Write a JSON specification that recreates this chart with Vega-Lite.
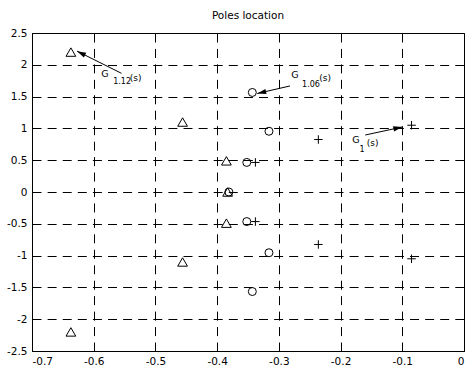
{
  "$schema": "https://vega.github.io/schema/vega-lite/v6.json",
  "width": 432,
  "height": 318,
  "autosize": {"type": "none"},
  "padding": {"left": 32, "top": 33, "right": 1, "bottom": 16},
  "background": "white",
  "title": {"text": "Poles location", "font": "DejaVu Sans", "fontSize": 10.5, "fontWeight": "normal", "color": "black", "offset": 7},
  "config": {
    "locale": {"number": {"decimal": ".", "thousands": ",", "grouping": [3], "currency": ["$", ""], "minus": "-"}},
    "view": {"stroke": "black", "strokeWidth": 1},
    "axis": {
      "domainColor": "black",
      "ticks": false,
      "grid": true,
      "gridColor": "black",
      "gridOpacity": 1,
      "gridWidth": 1,
      "labelFont": "DejaVu Sans",
      "labelFontSize": 10.5,
      "labelColor": "black"
    },
    "axisX": {"gridDash": [9, 6.45], "labelPadding": 5},
    "axisY": {"gridDash": [9, 6.1], "labelPadding": 5}
  },
  "datasets": {
    "poles": [
      {"system": "G1.12", "x": -0.637, "y": 2.2},
      {"system": "G1.12", "x": -0.637, "y": -2.2},
      {"system": "G1.12", "x": -0.456, "y": 1.1},
      {"system": "G1.12", "x": -0.456, "y": -1.1},
      {"system": "G1.12", "x": -0.385, "y": 0.49},
      {"system": "G1.12", "x": -0.385, "y": -0.49},
      {"system": "G1.12", "x": -0.383, "y": 0},
      {"system": "G1.06", "x": -0.343, "y": 1.565},
      {"system": "G1.06", "x": -0.343, "y": -1.565},
      {"system": "G1.06", "x": -0.316, "y": 0.955},
      {"system": "G1.06", "x": -0.316, "y": -0.955},
      {"system": "G1.06", "x": -0.352, "y": 0.465},
      {"system": "G1.06", "x": -0.352, "y": -0.465},
      {"system": "G1.06", "x": -0.381, "y": 0},
      {"system": "G1", "x": -0.085, "y": 1.05},
      {"system": "G1", "x": -0.085, "y": -1.05},
      {"system": "G1", "x": -0.236, "y": 0.825},
      {"system": "G1", "x": -0.236, "y": -0.825},
      {"system": "G1", "x": -0.338, "y": 0.465},
      {"system": "G1", "x": -0.338, "y": -0.465}
    ],
    "arrows": [
      {"system": "G1.12", "x": -0.627, "y": 2.215, "x2": -0.555, "y2": 1.866},
      {"system": "G1.06", "x": -0.335, "y": 1.549, "x2": -0.282, "y2": 1.667},
      {"system": "G1", "x": -0.1, "y": 1.022, "x2": -0.16, "y2": 0.896}
    ],
    "labels": [
      {"system": "G1.12", "part": "G", "x": -0.582, "y": 1.85, "text": "G"},
      {"system": "G1.12", "part": "sub", "x": -0.554, "y": 1.735, "text": "1.12"},
      {"system": "G1.12", "part": "arg", "x": -0.532, "y": 1.8, "text": "(s)"},
      {"system": "G1.06", "part": "G", "x": -0.274, "y": 1.84, "text": "G"},
      {"system": "G1.06", "part": "sub", "x": -0.248, "y": 1.685, "text": "1.06"},
      {"system": "G1.06", "part": "arg", "x": -0.225, "y": 1.79, "text": "(s)"},
      {"system": "G1", "part": "G", "x": -0.175, "y": 0.815, "text": "G"},
      {"system": "G1", "part": "sub", "x": -0.165, "y": 0.66, "text": "1"},
      {"system": "G1", "part": "arg", "x": -0.148, "y": 0.77, "text": "(s)"}
    ]
  },
  "encoding": {
    "x": {
      "field": "x",
      "type": "quantitative",
      "scale": {"domain": [-0.7, 0], "nice": false, "zero": false},
      "axis": {"title": null, "values": [-0.7, -0.6, -0.5, -0.4, -0.3, -0.2, -0.1, 0], "format": "~g"}
    },
    "y": {
      "field": "y",
      "type": "quantitative",
      "scale": {"domain": [-2.5, 2.5], "nice": false, "zero": false},
      "axis": {"title": null, "values": [-2.5, -2, -1.5, -1, -0.5, 0, 0.5, 1, 1.5, 2, 2.5], "format": "~g"}
    }
  },
  "layer": [
    {
      "data": {"name": "poles"},
      "transform": [{"filter": "datum.system === 'G1.12'"}],
      "mark": {"type": "point", "shape": "triangle-up", "size": 95, "filled": false, "stroke": "black", "strokeWidth": 1, "opacity": 1}
    },
    {
      "data": {"name": "poles"},
      "transform": [{"filter": "datum.system === 'G1.06'"}],
      "mark": {"type": "point", "shape": "circle", "size": 64, "filled": false, "stroke": "black", "strokeWidth": 1, "opacity": 1}
    },
    {
      "data": {"name": "poles"},
      "transform": [{"filter": "datum.system === 'G1'"}],
      "mark": {"type": "point", "shape": "M-1,0H1M0,-1V1", "size": 72, "filled": false, "stroke": "black", "strokeWidth": 1, "opacity": 1}
    },
    {
      "data": {"name": "arrows"},
      "mark": {"type": "rule", "color": "black", "strokeWidth": 1},
      "encoding": {"x2": {"field": "x2"}, "y2": {"field": "y2"}}
    },
    {
      "data": {"name": "arrows"},
      "transform": [{"filter": "datum.system === 'G1.12'"}],
      "mark": {"type": "point", "shape": "M0,0L-0.6,2L0.6,2Z", "size": 80, "angle": 296.5, "filled": true, "color": "black", "opacity": 1}
    },
    {
      "data": {"name": "arrows"},
      "transform": [{"filter": "datum.system === 'G1.06'"}],
      "mark": {"type": "point", "shape": "M0,0L-0.6,2L0.6,2Z", "size": 80, "angle": 257.2, "filled": true, "color": "black", "opacity": 1}
    },
    {
      "data": {"name": "arrows"},
      "transform": [{"filter": "datum.system === 'G1'"}],
      "mark": {"type": "point", "shape": "M0,0L-0.6,2L0.6,2Z", "size": 80, "angle": 77.8, "filled": true, "color": "black", "opacity": 1}
    },
    {
      "data": {"name": "labels"},
      "transform": [{"filter": "datum.part === 'G'"}],
      "mark": {"type": "text", "font": "DejaVu Sans", "fontSize": 9.5, "color": "black", "align": "center", "baseline": "middle"},
      "encoding": {"text": {"field": "text"}}
    },
    {
      "data": {"name": "labels"},
      "transform": [{"filter": "datum.part === 'sub'"}],
      "mark": {"type": "text", "font": "DejaVu Sans", "fontSize": 8, "color": "black", "align": "center", "baseline": "middle"},
      "encoding": {"text": {"field": "text"}}
    },
    {
      "data": {"name": "labels"},
      "transform": [{"filter": "datum.part === 'arg'"}],
      "mark": {"type": "text", "font": "DejaVu Sans", "fontSize": 9, "color": "black", "align": "center", "baseline": "middle"},
      "encoding": {"text": {"field": "text"}}
    }
  ]
}
